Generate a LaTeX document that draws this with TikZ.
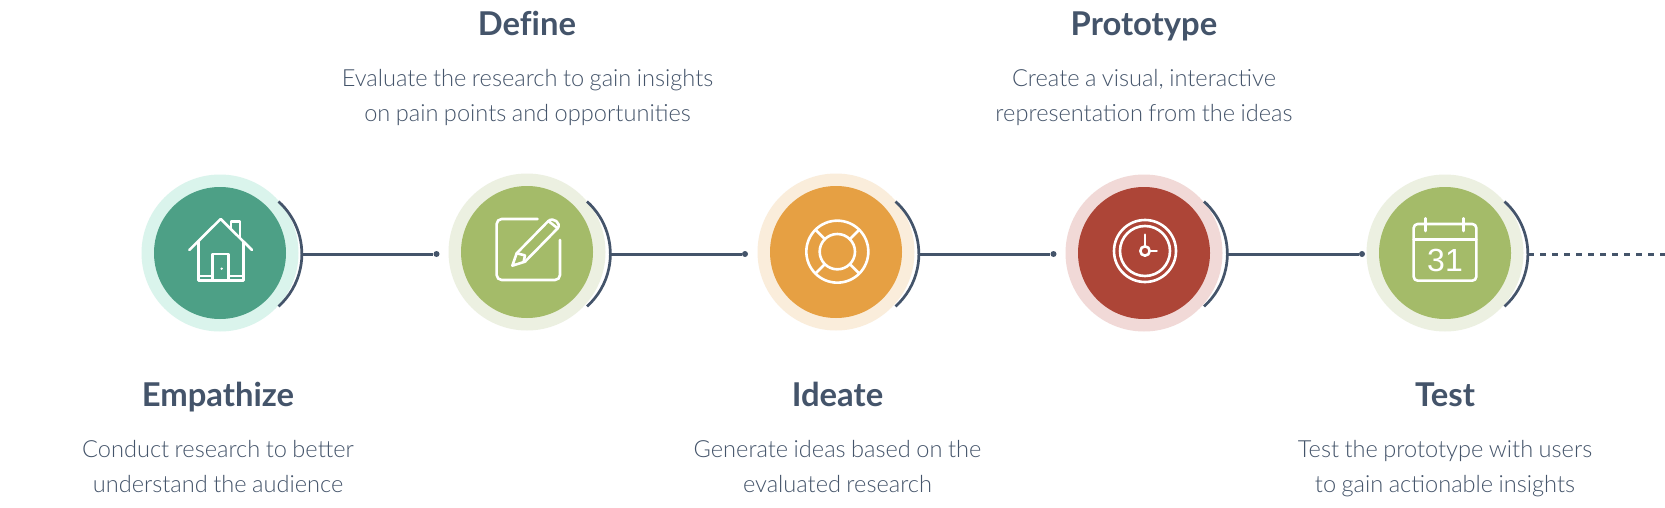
\documentclass[tikz,border=0pt]{standalone}
\usepackage{fontspec}
\setmainfont[Ligatures=NoCommon]{Lato}
\newfontfamily\latolight[WordSpace=0.85]{Lato Light}
\newfontfamily\numfont{Liberation Sans}
\definecolor{ink}{HTML}{44546A}
\definecolor{tealA}{HTML}{4DA086}\definecolor{tealB}{HTML}{DAF4EC}
\definecolor{greenA}{HTML}{A4BB69}\definecolor{greenB}{HTML}{ECF0E1}
\definecolor{orangeA}{HTML}{E6A043}\definecolor{orangeB}{HTML}{FAEDDB}
\definecolor{redA}{HTML}{AD4537}\definecolor{redB}{HTML}{F1D9D7}
\tikzset{
  x=1pt,y=-1pt,
  title/.style={font=\fontsize{32.8}{38}\selectfont\bfseries,text=ink,anchor=base,inner sep=0},
  desc/.style={font=\latolight\fontsize{23.6}{35}\selectfont,text=ink,anchor=base,inner sep=0},
  hub/.style={circle,inner sep=0,minimum size=132pt},
  halo/.style={circle,inner sep=0,minimum size=157pt},
  glyph/.style={draw=white,line width=2.6pt,line cap=round,line join=round},
  link/.style={draw=ink,line width=3pt},
  bow/.style={draw=ink,line width=2.7pt},
  tipdot/.style={circle,fill=ink,inner sep=0,minimum size=6pt},
}
\begin{document}
\begin{tikzpicture}
\useasboundingbox (0,0) rectangle (1665,508);
\fill[white] (0,0) rectangle (1665,508);
% halos and hubs
\node[halo,fill=tealB]   (h1) at (220,253) {};
\node[hub,fill=tealA]    (c1) at (220,253) {};
\node[halo,fill=greenB]  (h2) at (527,252) {};
\node[hub,fill=greenA]   (c2) at (527,252) {};
\node[halo,fill=orangeB] (h3) at (836,252) {};
\node[hub,fill=orangeA]  (c3) at (836,252) {};
\node[halo,fill=redB]    (h4) at (1144,253) {};
\node[hub,fill=redA]     (c4) at (1144,253) {};
\node[halo,fill=greenB]  (h5) at (1445,253) {};
\node[hub,fill=greenA]   (c5) at (1445,253) {};
% bows
\foreach \x in {278.5,587,895.5,1204,1504.5}
  \draw[bow] (\x,201.5) arc[start angle=-48,end angle=48,radius=70.6];
% connectors
\coordinate (s1) at (301.5,254);
\coordinate (s2) at (610,254);
\coordinate (s3) at (918.5,254);
\coordinate (s4) at (1227,254);
\coordinate (s5) at (1528,254);
\coordinate (e5) at (1665,254);
\node[tipdot] (d1) at (436.5,254) {};
\node[tipdot] (d2) at (745,254) {};
\node[tipdot] (d3) at (1053.5,254) {};
\node[tipdot] (d4) at (1362,254) {};
\draw[link] (s1) -- (d1);
\draw[link] (s2) -- (d2);
\draw[link] (s3) -- (d3);
\draw[link] (s4) -- (d4);
\draw[link,dash pattern=on 6pt off 6pt] (s5) -- (e5);
% house
\begin{scope}[shift={(130,160)},scale=1/3]
  \draw[glyph] (178,270) -- (272,177) -- (366,270);
  \draw[glyph] (303,205) -- (303,185) -- (330,185) -- (330,232);
  \draw[glyph] (205,245) -- (205,362) -- (340,362) -- (340,245);
  \draw[glyph] (248,362) -- (248,282) -- (296,282) -- (296,362);
  \draw[glyph] (205,348) -- (248,348) (296,348) -- (340,348);
  \fill[white] (275,326) circle[radius=4];
\end{scope}
% pencil and pad
\begin{scope}[shift={(485,210)},scale=1/3]
  \draw[glyph] (158,27) -- (50,27) arc[start angle=-90,end angle=-180,radius=15] -- (35,195) arc[start angle=180,end angle=90,radius=15] -- (210,210) arc[start angle=90,end angle=0,radius=15] -- (225,90);
  \draw[glyph] (82,167) -- (95,130) -- (190,33) .. controls (205,20) and (230,40) .. (218,55) -- (120,155) -- cycle;
  \draw[glyph] (190,33) -- (218,55);
  \draw[glyph] (95,130) -- (120,136) -- (116,155);
\end{scope}
% lifebuoy
\begin{scope}[shift={(750,160)},scale=1/3]
  \draw[glyph] (262,275) circle[radius=93];
  \draw[glyph] (262,275) circle[radius=53];
  \draw[glyph] (225,238) -- (197,210) (299,238) -- (327,210) (225,312) -- (197,340) (299,312) -- (327,340);
\end{scope}
% clock
\begin{scope}[shift={(1105,212)},scale=1/3]
  \draw[glyph] (120,117) circle[radius=93];
  \draw[glyph] (120,117) circle[radius=75];
  \draw[glyph] (120,117) circle[radius=14];
  \draw[glyph] (120,103) -- (120,68) (134,117) -- (155,117);
\end{scope}
% calendar
\begin{scope}[shift={(1345,160)},scale=1/3]
  \draw[glyph,rounded corners=4pt] (206,192) rectangle (394,362);
  \draw[glyph] (206,238) -- (394,238);
  \draw[glyph] (242,175) -- (242,213) (356,175) -- (356,213);
  \node[inner sep=0,text=white,font=\numfont\fontsize{32}{32}\selectfont,anchor=base] (num) at (300,335) {31};
\end{scope}
% texts
\node[title] (t1) at (218,406.7) {Empathize};
\node[desc] (a1) at (218,457.3) {Conduct research to better};
\node[desc] (b1) at (218,492) {understand the audience};
\node[title] (t2) at (527,35.7) {Define};
\node[desc] (a2) at (527.5,86.7) {Evaluate the research to gain insights};
\node[desc] (b2) at (527.5,121.7) {on pain points and opportunities};
\node[title] (t3) at (837.5,406.7) {Ideate};
\node[desc] (a3) at (837.5,457.3) {Generate ideas based on the};
\node[desc] (b3) at (837.5,492) {evaluated research};
\node[title] (t4) at (1144,35.7) {Prototype};
\node[desc] (a4) at (1144,86.7) {Create a visual, interactive};
\node[desc] (b4) at (1144,121.7) {representation from the ideas};
\node[title] (t5) at (1445,406.7) {Test};
\node[desc] (a5) at (1445,457.3) {Test the prototype with users};
\node[desc] (b5) at (1445,492) {to gain actionable insights};
\end{tikzpicture}
\end{document}
